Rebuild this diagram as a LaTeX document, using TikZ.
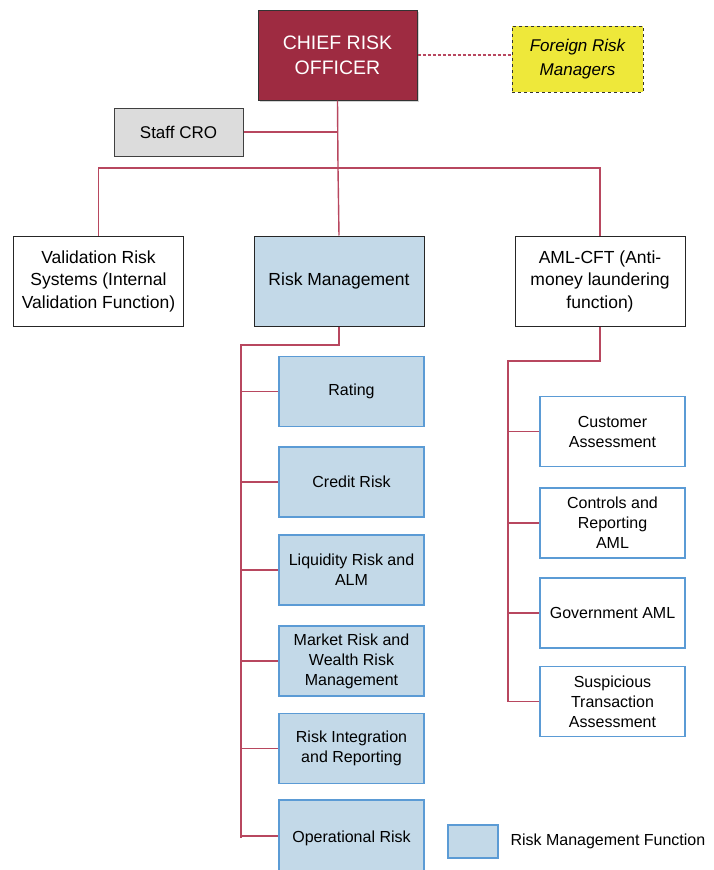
\documentclass[tikz,border=0pt]{standalone}
\usepackage{fontspec}
\setmainfont{Liberation Sans}
\usetikzlibrary{shadows}

\definecolor{croRed}{HTML}{9E2B41}
\definecolor{linkRed}{HTML}{B8475F}
\definecolor{rmBlue}{HTML}{C3D9E8}
\definecolor{rmEdge}{HTML}{5B9BD5}
\definecolor{frmYellow}{HTML}{EEE83A}
\definecolor{staffGray}{HTML}{DCDCDC}

\tikzset{
    box/.style={draw=black!85, line width=1pt, align=center, inner sep=2pt,
        minimum width=170pt, minimum height=90pt, font=\fontsize{17.5}{22.5}\selectfont},
    rmbox/.style={box, fill=rmBlue},
    subbox/.style={draw=rmEdge, line width=1.2pt, align=center, inner sep=2pt,
        minimum width=145pt, minimum height=70pt, font=\fontsize{16}{20}\selectfont},
    rmsub/.style={subbox, fill=rmBlue},
    amlsub/.style={subbox, fill=white},
    link/.style={draw=linkRed, line width=1.4pt},
}

\begin{document}
\begin{tikzpicture}[x=1pt, y=-1pt]
        \useasboundingbox (0,0) rectangle (713,870);

            \node[draw=black!80, fill=croRed, text=white, line width=1pt, align=center,
                minimum width=159pt, minimum height=90pt, font=\fontsize{19.5}{25}\selectfont,
                drop shadow={shadow xshift=2pt, shadow yshift=-2pt, opacity=0.35}]
                (cro) at (337.5,55) {CHIEF RISK\\OFFICER};
            \node[draw=black!80, dashed, fill=frmYellow, line width=0.9pt, align=center,
                minimum width=131pt, minimum height=66pt, font=\fontsize{17}{24}\selectfont\itshape]
                (frm) at (577.5,59) {Foreign Risk\\Managers};
            \node[draw=black!75, fill=staffGray, line width=1pt,
                minimum width=129pt, minimum height=48pt, font=\fontsize{17}{20}\selectfont]
                (staff) at (178.5,132) {Staff CRO};

            \node[box] (val) at (98.5,281) {Validation Risk\\Systems (Internal\\Validation Function)};
            \node[rmbox] (rm) at (339,281) {Risk Management};
            \node[box] (aml) at (600,281) {AML-CFT (Anti-\\money laundering\\function)};

            \node[rmsub] (rating) at (351.5,391.5) {Rating};
            \node[rmsub] (credit) at (351.5,482) {Credit Risk};
            \node[rmsub] (liquid) at (351.5,570) {Liquidity Risk and\\ALM};
            \node[rmsub] (market) at (351.5,661) {Market Risk and\\Wealth Risk\\Management};
            \node[rmsub] (integ) at (351.5,748.5) {Risk Integration\\and Reporting};
            \node[rmsub, minimum height=76pt] (oprisk) at (351.5,838) {Operational Risk};

            \node[amlsub] (custom) at (612.5,431.5) {Customer\\Assessment};
            \node[amlsub] (ctrl) at (612.5,523) {Controls and\\Reporting\\AML};
            \node[amlsub] (gov) at (612.5,613) {Government AML};
            \node[amlsub] (susp) at (612.5,701.5) {Suspicious\\Transaction\\Assessment};

            \node[draw=rmEdge, fill=rmBlue, line width=1.2pt, minimum width=50pt, minimum height=33pt]
                (legbox) at (473,841.5) {};
            \node[anchor=west, font=\fontsize{16}{20}\selectfont] (legtext) at (507,841) {Risk Management Function};

            \coordinate (bus) at (338,168);
            \coordinate (rmtrunk) at (241,345);
            \coordinate (amltrunk) at (508,361);

            \draw[link, dash pattern=on 3pt off 2pt] (cro.east) -- (cro.east -| frm.west);
            \draw[link] (staff.east) -- (staff.east -| cro.south);
            \draw[link] (cro.south) -- (bus) -- (rm.north);
            \draw[link] (val.north) |- (bus) -| (aml.north);

            \draw[link] (rm.south) |- (rmtrunk) -- (rmtrunk |- oprisk.west);
            \foreach \sub in {rating, credit, liquid, market, integ}
                \draw[link] (rmtrunk |- \sub.west) -- (\sub.west);
            \draw[link] (rmtrunk |- 0,836) -- (oprisk.west |- 0,836);

            \draw[link] (aml.south) |- (amltrunk) -- (amltrunk |- susp.west);
            \foreach \sub in {custom, ctrl, gov, susp}
                \draw[link] (amltrunk |- \sub.west) -- (\sub.west);

        \end{tikzpicture}
\end{document}
